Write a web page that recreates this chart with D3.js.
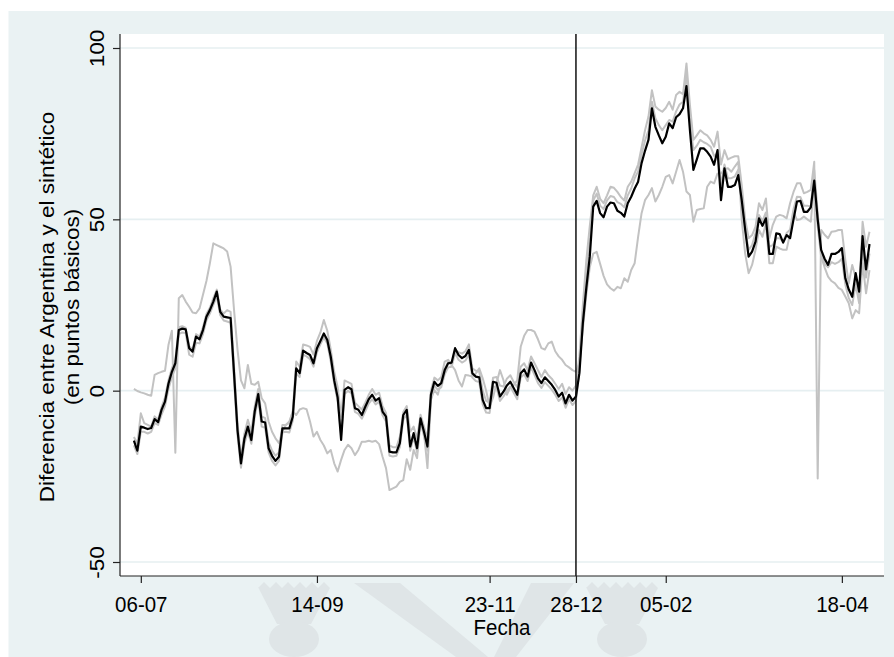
<!DOCTYPE html>
<html>
<head>
<meta charset="utf-8">
<script src="https://cdn.jsdelivr.net/npm/d3@7"></script>
<style>
  html, body { margin: 0; padding: 0; background: #fff; }
  svg { display: block; }
  text { font-family: "Liberation Sans", Arial, sans-serif; fill: #000; }
</style>
</head>
<body>
<svg id="chart" width="894" height="657"></svg>
<script>
// Diferencia diaria (puntos básicos), índice = día hábil desde el inicio de la muestra
const negro = [
  -14.6,-17.5,-10.5,-10.8,-11.2,-10.9,-8.3,-9.2,-5.6,-3.2,
  2.0,5.5,8.0,17.7,18.1,17.9,12.4,11.4,15.8,15.0,
  17.7,21.6,23.5,26.0,28.9,23.0,21.6,21.4,21.2,5.0,
  -11.5,-21.2,-14.0,-10.5,-14.4,-6.0,-1.0,-9.0,-9.3,-16.8,
  -19.0,-20.5,-19.3,-11.0,-11.0,-11.0,-7.6,6.5,5.1,11.7,
  11.0,10.4,8.0,12.4,14.5,16.7,14.8,9.9,3.0,-2.0,
  -14.4,0.2,1.0,0.4,-5.1,-5.6,-7.1,-4.7,-2.5,-1.2,
  -2.9,-2.2,-6.1,-7.6,-17.8,-18.0,-18.0,-15.3,-7.1,-5.6,
  -16.3,-12.4,-16.8,-8.1,-12.0,-16.3,-1.2,2.6,1.4,2.2,
  6.0,8.0,8.2,12.4,10.4,9.5,10.1,11.9,5.1,4.1,
  3.9,-2.7,-5.1,-5.1,2.6,2.3,-1.7,-0.3,1.5,2.6,
  0.7,-1.2,5.1,6.2,4.1,8.2,6.0,3.6,2.2,3.9,
  2.8,1.7,0.2,-1.7,-0.6,-3.7,-1.2,-2.9,-1.7,5.1,
  19.7,30.0,39.1,53.7,55.4,51.8,50.6,53.7,54.9,54.7,
  52.5,51.9,50.8,54.7,56.6,59.0,61.0,66.4,70.0,73.2,
  82.4,77.0,74.5,72.2,74.1,78.0,76.6,79.8,80.7,82.4,
  88.9,76.0,64.4,67.5,70.7,70.7,69.7,68.3,65.9,70.2,
  55.6,64.9,59.5,59.5,60.0,62.9,55.6,47.0,39.1,40.6,
  43.5,50.3,48.1,50.3,39.9,39.9,45.9,45.7,43.2,45.4,
  44.5,50.0,55.2,55.4,52.2,52.2,53.5,61.3,50.0,41.1,
  38.5,36.7,39.9,39.9,40.5,41.6,32.8,29.5,27.4,34.3,
  28.9,45.1,35.4,42.8
];

const gris1 = [
  -13.5,-15.5,-6.6,-9.5,-10.0,-10.5,-7.5,-8.5,-4.8,-2.0,
  3.0,6.5,9.0,18.5,18.8,18.3,13.0,12.0,16.5,15.8,
  18.5,22.4,24.2,27.0,29.5,23.6,22.5,23.5,23.0,7.0,
  -9.5,-19.5,-12.5,-8.5,-12.0,-4.5,0.5,-7.5,-8.0,-15.0,
  -17.5,-19.0,-18.0,-10.0,-10.0,-9.5,-6.0,8.5,7.0,13.5,
  13.2,12.8,10.5,14.5,17.0,20.6,17.5,12.0,5.5,1.0,
  -7.6,3.0,2.5,2.0,-3.5,-4.5,-5.5,-3.5,-1.2,0.5,
  -1.2,-0.6,-4.5,-6.5,-16.0,-16.5,-16.5,-13.5,-6.2,-4.5,
  -12.0,-10.5,-14.0,-7.0,-10.5,-14.0,0.0,3.8,3.0,4.0,
  8.5,9.0,7.5,12.0,11.2,10.8,11.5,13.5,6.5,5.8,
  5.5,0.0,-3.0,-3.5,3.8,4.0,1.5,1.2,3.5,4.5,
  2.5,1.0,7.0,8.0,6.0,10.0,8.0,6.0,4.0,6.0,
  4.5,3.5,2.0,0.5,2.0,-1.0,1.0,0.0,1.5,10.0,
  25.0,38.0,48.0,57.0,59.5,56.0,54.7,57.0,59.5,59.2,
  58.0,56.5,55.5,59.5,61.0,63.5,66.0,71.0,76.0,80.0,
  87.7,82.9,82.0,81.4,82.5,84.3,82.0,86.3,87.2,86.5,
  95.5,83.4,73.2,74.5,76.0,75.1,74.5,73.2,71.2,75.6,
  66.0,70.2,67.5,68.0,68.4,68.4,60.0,50.0,44.5,45.4,
  47.9,54.7,52.7,56.1,44.5,48.4,50.8,51.3,51.0,50.3,
  54.7,58.0,60.5,60.5,57.6,58.0,58.6,66.8,-25.6,46.9,
  45.5,44.5,46.4,46.5,46.9,46.9,38.1,31.3,36.7,33.0,
  27.4,49.3,42.0,46.4
];

const gris2 = [
  -16.0,-18.5,-12.0,-12.0,-12.5,-12.0,-9.5,-10.0,-7.0,-4.5,
  0.5,4.0,6.5,16.5,17.0,16.8,10.5,9.9,14.0,13.8,
  16.5,20.5,22.5,25.0,27.5,22.0,20.5,20.2,19.8,3.0,
  -13.0,-22.5,-15.5,-12.0,-15.5,-7.5,-2.5,-10.5,-10.8,-18.0,
  -20.5,-21.8,-20.5,-12.2,-12.0,-12.2,-8.8,5.0,4.0,10.5,
  10.0,9.2,7.0,11.2,13.5,15.5,13.8,8.5,2.0,-3.0,
  -13.0,-1.0,0.0,-0.8,-6.2,-6.8,-8.2,-6.0,-3.8,-2.5,
  -4.0,-3.2,-7.2,-9.0,-19.0,-19.2,-19.0,-16.5,-8.5,-7.0,
  -17.5,-13.5,-18.0,-9.2,-13.2,-17.5,-2.5,1.5,0.2,1.0,
  4.8,6.8,7.0,11.0,9.0,8.2,8.8,10.5,3.8,2.8,
  2.5,-4.0,-6.4,-6.5,1.2,1.0,-3.0,-1.7,0.0,1.2,
  -0.7,-2.5,3.8,4.8,2.8,6.8,4.6,2.2,0.8,2.5,
  1.4,0.3,-1.2,-3.0,-2.0,-5.0,-2.5,-4.2,-3.0,6.0,
  22.0,34.0,44.0,55.5,57.5,54.0,53.0,55.5,56.8,56.5,
  55.0,54.5,53.5,57.0,59.0,62.0,64.0,69.0,73.0,76.0,
  84.3,79.5,77.5,76.0,77.5,79.0,78.5,81.5,83.5,84.3,
  92.6,79.0,70.2,71.5,73.2,72.5,72.0,71.2,68.5,69.3,
  60.0,66.0,62.0,62.0,62.5,64.5,56.0,47.0,41.1,42.5,
  46.0,51.3,49.5,52.0,42.0,42.5,44.5,44.5,43.5,46.0,
  47.0,53.0,56.6,56.5,54.0,54.0,53.7,64.4,52.0,40.1,
  37.0,36.0,37.5,37.0,37.5,38.5,31.0,27.0,25.0,31.0,
  25.5,42.0,33.0,40.0
];

const gris3 = [
  0.5,-0.1,-0.5,-0.8,-1.2,-1.5,4.6,5.1,5.5,5.8,
  13.3,17.5,-18.1,27.0,27.9,26.0,24.5,22.8,22.6,24.0,
  28.0,32.0,37.2,43.0,42.5,42.0,41.5,40.6,36.2,23.5,
  12.0,3.0,0.7,7.5,2.0,1.7,2.6,-2.2,-3.7,-9.0,
  -12.0,-13.9,-15.3,-12.0,-10.0,-9.0,-6.1,-7.1,-5.5,-5.1,
  -5.4,-9.0,-13.4,-12.0,-14.4,-16.0,-18.3,-17.3,-21.2,-23.6,
  -20.2,-17.3,-15.8,-16.8,-18.8,-17.3,-14.9,-14.9,-14.6,-14.9,
  -14.6,-15.6,-19.3,-22.6,-29.0,-28.5,-28.0,-26.6,-26.1,-20.0,
  -23.1,-17.3,-19.7,-8.6,-12.4,-22.6,-2.7,0.2,-1.2,3.0,
  6.0,8.5,7.5,6.0,3.0,1.2,4.6,4.4,4.1,5.0,
  6.5,3.6,0.0,-4.7,-2.0,2.2,6.0,3.1,-1.2,1.0,
  1.7,3.0,12.8,16.0,17.7,17.7,17.2,15.0,12.4,12.0,
  13.8,14.3,11.5,10.0,9.0,7.5,6.8,6.0,5.5,8.0,
  18.0,28.0,36.0,40.0,40.5,37.0,33.5,31.0,29.9,29.2,
  30.3,29.9,32.8,31.8,35.2,37.2,44.9,51.8,55.6,57.1,
  59.1,55.2,57.1,59.5,62.4,62.9,60.5,63.9,67.3,63.9,
  58.1,57.1,49.3,52.7,53.0,53.2,59.5,61.0,60.5,63.4,
  63.4,64.5,64.9,63.9,65.4,66.8,50.0,40.0,34.3,36.7,
  41.1,46.9,44.9,48.8,37.2,37.2,42.0,41.5,41.1,41.1,
  45.9,52.2,49.8,50.0,50.8,50.0,49.3,60.5,48.0,39.1,
  36.0,33.3,32.0,31.3,30.0,29.4,27.5,25.5,21.1,23.5,
  22.6,37.2,28.4,35.2
];

const yTicks = [-50, 0, 50, 100];
const xTickDias = [2, 53, 103, 128, 154, 205];
const xTickEtiquetas = ["06-07", "14-09", "23-11", "28-12", "05-02", "18-04"];
const diaCorte = 128;
const tituloY = ["Diferencia entre Argentina y el sintético", "(en puntos básicos)"];
const tituloX = "Fecha";

const W = 894, H = 657;
const plot = { left: 120, right: 884, top: 34, bottom: 576 };
const fontSize = 20.5;
const stretch = "scale(1,1.1)";

const svg = d3.select("#chart");

// fondo de la figura
svg.append("rect").attr("width", W).attr("height", H).attr("fill", "#ffffff");
svg.append("rect").attr("x", 8.5).attr("y", 11).attr("width", W - 8.5).attr("height", H - 11)
  .attr("fill", "#eaf2f3");

// marca de agua del pie: una V y dos cardos
const marca = svg.append("g").attr("fill", "#dfe5e7");
marca.append("path").attr("d", "M354,583 L400,583 L488,657 L456,657 Z");
marca.append("path").attr("d", "M531,583 L574,583 L516,657 L494,657 Z");
[294, 622].forEach(cx => {
  const corona = d3.path();
  corona.moveTo(cx - 36, 587);
  for (let k = 0; k <= 12; k++) corona.lineTo(cx - 36 + k * 6, k % 2 ? 582 : 588);
  corona.lineTo(cx + 17, 624);
  corona.lineTo(cx - 17, 624);
  corona.closePath();
  marca.append("path").attr("d", corona.toString());
  marca.append("ellipse").attr("cx", cx).attr("cy", 639).attr("rx", 25).attr("ry", 18);
});

// área del gráfico
svg.append("rect").attr("x", plot.left).attr("y", plot.top)
  .attr("width", plot.right - plot.left).attr("height", plot.bottom - plot.top)
  .attr("fill", "#ffffff");

const x = d3.scaleLinear().domain([0, negro.length - 1]).range([133.9, 869.5]);
const y = d3.scaleLinear().domain([-50, 100]).range([562, 48]);

// líneas de la grilla
svg.append("g").selectAll("line").data(yTicks).join("line")
  .attr("x1", plot.left).attr("x2", plot.right)
  .attr("y1", d => y(d)).attr("y2", d => y(d))
  .attr("stroke", "#e6eff1").attr("stroke-width", 1.6);

// series
const linea = d3.line().x((d, i) => x(i)).y(d => y(d));
const series = [
  { valores: gris3, color: "#c2c2c2", ancho: 2 },
  { valores: gris2, color: "#c2c2c2", ancho: 2 },
  { valores: gris1, color: "#c2c2c2", ancho: 2 },
  { valores: negro, color: "#000000", ancho: 2.2 }
];
svg.append("g").selectAll("path").data(series).join("path")
  .attr("d", d => linea(d.valores))
  .attr("fill", "none")
  .attr("stroke", d => d.color)
  .attr("stroke-width", d => d.ancho)
  .attr("stroke-linejoin", "round");

// línea vertical del corte
svg.append("line")
  .attr("x1", x(diaCorte)).attr("x2", x(diaCorte))
  .attr("y1", plot.top).attr("y2", plot.bottom)
  .attr("stroke", "#111").attr("stroke-width", 1.5);

// eje Y
const ejeY = svg.append("g")
  .attr("transform", `translate(${plot.left},0)`)
  .call(d3.axisLeft(y).tickValues(yTicks).tickSize(7).tickSizeOuter(0).tickFormat(d => String(d)));
ejeY.select(".domain").remove();
ejeY.selectAll(".tick line").attr("stroke", "#222").attr("stroke-width", 1.2);
ejeY.selectAll(".tick text")
  .attr("x", null).attr("dy", null)
  .attr("text-anchor", "middle")
  .attr("font-size", fontSize)
  .attr("font-family", "Liberation Sans, Arial, sans-serif")
  .attr("fill", "#000")
  .attr("transform", `translate(-16,0) ${stretch} rotate(-90)`);
svg.append("line")
  .attr("x1", plot.left).attr("x2", plot.left)
  .attr("y1", plot.top).attr("y2", plot.bottom)
  .attr("stroke", "#222").attr("stroke-width", 1.2);

// eje X
const ejeX = svg.append("g")
  .attr("transform", `translate(0,${plot.bottom})`)
  .call(d3.axisBottom(x).tickValues(xTickDias).tickSize(7).tickSizeOuter(0)
    .tickFormat((d, i) => xTickEtiquetas[i]));
ejeX.select(".domain").remove();
ejeX.selectAll(".tick line").attr("stroke", "#222").attr("stroke-width", 1.2);
ejeX.selectAll(".tick text")
  .attr("y", null).attr("dy", null)
  .attr("font-size", fontSize)
  .attr("font-family", "Liberation Sans, Arial, sans-serif")
  .attr("fill", "#000")
  .attr("transform", `translate(0,35.7) ${stretch}`);
svg.append("line")
  .attr("x1", plot.left).attr("x2", plot.right)
  .attr("y1", plot.bottom).attr("y2", plot.bottom)
  .attr("stroke", "#222").attr("stroke-width", 1.2);

// títulos de los ejes
const centroY = (plot.top + plot.bottom) / 2 + 2;
svg.append("g").selectAll("text").data(tituloY).join("text")
  .attr("text-anchor", "middle")
  .attr("font-size", fontSize)
  .attr("transform", (d, i) => `translate(${54 + i * 25},${centroY}) ${stretch} rotate(-90)`)
  .text(d => d);

svg.append("text")
  .attr("text-anchor", "middle")
  .attr("font-size", fontSize)
  .attr("transform", `translate(${(plot.left + plot.right) / 2},634.5) ${stretch}`)
  .text(tituloX);
</script>
</body>
</html>
